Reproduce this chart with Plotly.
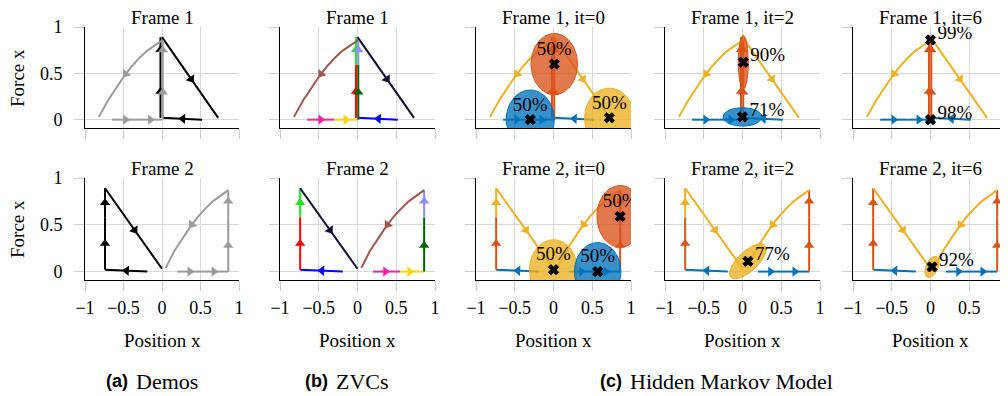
import numpy as np
import plotly.graph_objects as go

# ---------------- data ----------------
TICK_X = [-1, -0.5, 0, 0.5, 1]
TICK_X_TEXT = ["\u22121", "\u22120.5", "0", "0.5", "1"]
TICK_Y = [0, 0.5, 1]
TICK_Y_TEXT = ["0", "0.5", "1"]

FRAMES = ["Frame 1", "Frame 2"]
HMM_ITERS = [0, 2, 6]

# ---- Frame 1 : demo 1 (black) pieces : x, y, arrow positions (fraction along piece)
f1_d1_h_x = [0.52, 0.0];    f1_d1_h_y = [0.0, 0.02];   f1_d1_h_t = [0.48]
f1_d1_vlo_x = [-0.02, -0.02]; f1_d1_vlo_y = [0.02, 0.59]; f1_d1_vlo_t = [0.5]
f1_d1_vhi_x = [-0.02, -0.02]; f1_d1_vhi_y = [0.59, 0.89]; f1_d1_vhi_t = [0.55]
f1_d1_d_x = [0.0, 0.73];    f1_d1_d_y = [0.89, 0.02];  f1_d1_d_t = [0.52]
# ---- Frame 1 : demo 2 (gray) pieces
f1_d2_hlo_x = [-0.65, -0.30]; f1_d2_hlo_y = [0.0, 0.0]; f1_d2_hlo_t = [0.5]
f1_d2_hhi_x = [-0.30, 0.0];   f1_d2_hhi_y = [0.0, 0.0]; f1_d2_hhi_t = [0.5]
f1_d2_vlo_x = [0.01, 0.01];   f1_d2_vlo_y = [0.0, 0.59]; f1_d2_vlo_t = [0.5]
f1_d2_vhi_x = [0.01, 0.01];   f1_d2_vhi_y = [0.59, 0.86]; f1_d2_vhi_t = [0.6]
f1_d2_c_x = [0.01, -0.1, -0.2, -0.3, -0.4, -0.5, -0.6, -0.7, -0.82]
f1_d2_c_y = [0.86, 0.80, 0.74, 0.66, 0.57, 0.46, 0.34, 0.21, 0.03]
f1_d2_c_t = [0.5]

# ---- Frame 2 : demo 1 (black) pieces
f2_d1_h_x = [-0.19, -0.74];  f2_d1_h_y = [0.0, 0.02];  f2_d1_h_t = [0.49]
f2_d1_vlo_x = [-0.74, -0.74]; f2_d1_vlo_y = [0.02, 0.58]; f2_d1_vlo_t = [0.5]
f2_d1_vhi_x = [-0.74, -0.74]; f2_d1_vhi_y = [0.58, 0.89]; f2_d1_vhi_t = [0.5]
f2_d1_d_x = [-0.74, 0.0];    f2_d1_d_y = [0.89, 0.03]; f2_d1_d_t = [0.52]
# ---- Frame 2 : demo 2 (gray) pieces
f2_d2_hlo_x = [0.2, 0.55];  f2_d2_hlo_y = [0.0, 0.0]; f2_d2_hlo_t = [0.46]
f2_d2_hhi_x = [0.55, 0.86]; f2_d2_hhi_y = [0.0, 0.0]; f2_d2_hhi_t = [0.4]
f2_d2_vlo_x = [0.86, 0.86]; f2_d2_vlo_y = [0.0, 0.58]; f2_d2_vlo_t = [0.48]
f2_d2_vhi_x = [0.86, 0.86]; f2_d2_vhi_y = [0.58, 0.87]; f2_d2_vhi_t = [0.59]
f2_d2_c_x = [0.86, 0.76, 0.66, 0.56, 0.46, 0.36, 0.26, 0.16, 0.05]
f2_d2_c_y = [0.87, 0.81, 0.75, 0.67, 0.58, 0.47, 0.35, 0.22, 0.04]
f2_d2_c_t = [0.5]

# ---- HMM states per panel: state colour, centre, ellipse half-axis vectors u, v, probability
f1_it0_state = ["red", "blue", "yellow"]
f1_it0_cx = [0.01, -0.30, 0.72]; f1_it0_cy = [0.60, 0.0, 0.02]
f1_it0_u = [(0.30, 0.0), (0.31, 0.0), (0.32, 0.0)]
f1_it0_v = [(0.0, 0.33), (0.0, 0.32), (0.0, 0.32)]
f1_it0_prob = [50, 50, 50]

f1_it2_state = ["red", "blue"]
f1_it2_cx = [0.01, 0.0]; f1_it2_cy = [0.62, 0.03]
f1_it2_u = [(0.065, 0.0), (0.25, 0.0)]
f1_it2_v = [(0.0, 0.29), (0.0, 0.10)]
f1_it2_prob = [90, 71]

f1_it6_state = ["red", "blue"]
f1_it6_cx = [0.0, 0.0]; f1_it6_cy = [0.86, 0.0]
f1_it6_u = [(0.045, 0.0), (0.05, 0.0)]
f1_it6_v = [(0.0, 0.045), (0.0, 0.035)]
f1_it6_prob = [99, 98]

f2_it0_state = ["yellow", "blue", "red"]
f2_it0_cx = [0.0, 0.57, 0.86]; f2_it0_cy = [0.02, 0.0, 0.59]
f2_it0_u = [(0.31, 0.0), (0.30, 0.0), (0.30, 0.0)]
f2_it0_v = [(0.0, 0.32), (0.0, 0.31), (0.0, 0.33)]
f2_it0_prob = [50, 50, 50]

f2_it2_state = ["yellow"]
f2_it2_cx = [0.07]; f2_it2_cy = [0.11]
f2_it2_u = [(0.22, 0.17)]
f2_it2_v = [(-0.087, 0.079)]
f2_it2_prob = [77]

f2_it6_state = ["yellow"]
f2_it6_cx = [0.02]; f2_it6_cy = [0.05]
f2_it6_u = [(0.06, 0.11)]
f2_it6_v = [(-0.07, 0.027)]
f2_it6_prob = [92]

SUB_LABELS = ["(a)", "(b)", "(c)"]
SUB_TEXTS = ["Demos", "ZVCs", "Hidden Markov Model"]

# ---------------- tables built from the arrays ----------------
PIECES = {
    1: [("d1_h", f1_d1_h_x, f1_d1_h_y, f1_d1_h_t),
        ("d1_vlo", f1_d1_vlo_x, f1_d1_vlo_y, f1_d1_vlo_t),
        ("d1_vhi", f1_d1_vhi_x, f1_d1_vhi_y, f1_d1_vhi_t),
        ("d1_d", f1_d1_d_x, f1_d1_d_y, f1_d1_d_t),
        ("d2_hlo", f1_d2_hlo_x, f1_d2_hlo_y, f1_d2_hlo_t),
        ("d2_hhi", f1_d2_hhi_x, f1_d2_hhi_y, f1_d2_hhi_t),
        ("d2_vlo", f1_d2_vlo_x, f1_d2_vlo_y, f1_d2_vlo_t),
        ("d2_vhi", f1_d2_vhi_x, f1_d2_vhi_y, f1_d2_vhi_t),
        ("d2_c", f1_d2_c_x, f1_d2_c_y, f1_d2_c_t)],
    2: [("d1_h", f2_d1_h_x, f2_d1_h_y, f2_d1_h_t),
        ("d1_vlo", f2_d1_vlo_x, f2_d1_vlo_y, f2_d1_vlo_t),
        ("d1_vhi", f2_d1_vhi_x, f2_d1_vhi_y, f2_d1_vhi_t),
        ("d1_d", f2_d1_d_x, f2_d1_d_y, f2_d1_d_t),
        ("d2_hlo", f2_d2_hlo_x, f2_d2_hlo_y, f2_d2_hlo_t),
        ("d2_hhi", f2_d2_hhi_x, f2_d2_hhi_y, f2_d2_hhi_t),
        ("d2_vlo", f2_d2_vlo_x, f2_d2_vlo_y, f2_d2_vlo_t),
        ("d2_vhi", f2_d2_vhi_x, f2_d2_vhi_y, f2_d2_vhi_t),
        ("d2_c", f2_d2_c_x, f2_d2_c_y, f2_d2_c_t)],
}

HMM_STATES = {
    (1, 0): (f1_it0_state, f1_it0_cx, f1_it0_cy, f1_it0_u, f1_it0_v, f1_it0_prob),
    (1, 2): (f1_it2_state, f1_it2_cx, f1_it2_cy, f1_it2_u, f1_it2_v, f1_it2_prob),
    (1, 6): (f1_it6_state, f1_it6_cx, f1_it6_cy, f1_it6_u, f1_it6_v, f1_it6_prob),
    (2, 0): (f2_it0_state, f2_it0_cx, f2_it0_cy, f2_it0_u, f2_it0_v, f2_it0_prob),
    (2, 2): (f2_it2_state, f2_it2_cx, f2_it2_cy, f2_it2_u, f2_it2_v, f2_it2_prob),
    (2, 6): (f2_it6_state, f2_it6_cx, f2_it6_cy, f2_it6_u, f2_it6_v, f2_it6_prob),
}

# ---------------- styles ----------------
FONT = "'Liberation Serif', 'DejaVu Serif', serif"
SANS = "'Liberation Sans', 'DejaVu Sans', sans-serif"
FS = 19
TFS = 18
GRAY = "#9b9b9b"
DEMO_COL = {p: ("#000000" if p.startswith("d1") else GRAY)
            for p in ["d1_h", "d1_vlo", "d1_vhi", "d1_d", "d2_hlo", "d2_hhi", "d2_vlo", "d2_vhi", "d2_c"]}
ZVC_COL = {"d1_h": "#0000ff", "d1_vlo": "#ff0000", "d1_vhi": "#1ee61e", "d1_d": "#0d0d3a",
           "d2_hlo": "#ff1fa5", "d2_hhi": "#ffd400", "d2_vlo": "#006400", "d2_vhi": "#8c8cff",
           "d2_c": "#a0554d"}
HMM_RGB = {"blue": (0, 114, 189), "red": (217, 83, 25), "yellow": (237, 177, 32)}
HMM_PIECE_STATE = {"d1_h": "blue", "d1_vlo": "red", "d1_vhi": "red", "d1_d": "yellow",
                   "d2_hlo": "blue", "d2_hhi": "blue", "d2_vlo": "red", "d2_vhi": "red",
                   "d2_c": "yellow"}

# the page body has an 8 px margin, so the figure is drawn from (8, 8) of the window
OFF = 8
W, H = 1008 - OFF, 396 - OFF
COL_PX = [(85, 239), (280, 435), (476, 631), (665, 820), (853, 1008)]   # window pixels
ROW_PX = [(27, 128), (178, 280)]
SUB_PX = [(130, 134), (330, 334), (624, 628)]   # right end of label, left start of text
YR = [-0.09, 1.0]
XR = [-1.0, 1.0]


def px2paper_x(px):
    return (px - OFF) / W


def px2paper_y(py):
    return 1 - (py - OFF) / H


def rgb(c, a=1.0):
    r, g, b = HMM_RGB[c]
    return f"rgba({r},{g},{b},{a})"


def arrow_points(xs, ys, ts, sx, sy):
    X = np.asarray(xs, float) * sx
    Y = np.asarray(ys, float) * sy
    seg = np.hypot(np.diff(X), np.diff(Y))
    cum = np.concatenate([[0.0], np.cumsum(seg)])
    L = cum[-1]
    out = []
    for t in ts:
        s = t * L
        i = int(min(max(np.searchsorted(cum, s, side="right") - 1, 0), len(seg) - 1))
        f = (s - cum[i]) / seg[i]
        px = X[i] + f * (X[i + 1] - X[i])
        py = Y[i] + f * (Y[i + 1] - Y[i])
        ang = float(np.degrees(np.arctan2(X[i + 1] - X[i], Y[i + 1] - Y[i])))
        out.append((px / sx, py / sy, ang))
    return out


fig = go.Figure()
layout = dict(width=W, height=H, margin=dict(l=0, r=0, t=0, b=0, pad=0, autoexpand=False),
              autosize=False,
              paper_bgcolor="white", plot_bgcolor="white", showlegend=False,
              font=dict(family=FONT, size=FS, color="black"))
annotations = []

for r in range(2):
    frame = r + 1
    for c in range(5):
        idx = r * 5 + c + 1
        xa = "x" if idx == 1 else f"x{idx}"
        ya = "y" if idx == 1 else f"y{idx}"
        x0p, x1p = COL_PX[c]
        y0p, y1p = ROW_PX[r]
        sx = (x1p - x0p) / (XR[1] - XR[0])
        sy = (y1p - y0p) / (YR[1] - YR[0])

        layout["xaxis" if idx == 1 else f"xaxis{idx}"] = dict(
            domain=[px2paper_x(x0p), min(px2paper_x(x1p), 1.0)], range=XR, anchor=ya,
            automargin=False,
            tickvals=TICK_X, ticktext=TICK_X_TEXT, showticklabels=(r == 1),
            ticks="outside", ticklen=10, tickcolor="#cfcfcf", tickwidth=1,
            showgrid=True, gridcolor="#d9d9d9", gridwidth=1, zeroline=False,
            showline=True, linecolor="black", linewidth=1,
            tickfont=dict(family=FONT, size=TFS), ticklabelstandoff=1, fixedrange=True)
        layout["yaxis" if idx == 1 else f"yaxis{idx}"] = dict(
            domain=[px2paper_y(y1p), px2paper_y(y0p)], range=YR, anchor=xa, automargin=False,
            tickvals=TICK_Y, ticktext=TICK_Y_TEXT, showticklabels=(c == 0),
            ticks="outside", ticklen=10, tickcolor="#cfcfcf", tickwidth=1,
            showgrid=True, gridcolor="#d9d9d9", gridwidth=1, zeroline=False,
            showline=True, linecolor="black", linewidth=1,
            tickfont=dict(family=FONT, size=TFS), ticklabelstandoff=8, fixedrange=True)

        # colours of the trajectory pieces for this panel
        if c == 0:
            cols = DEMO_COL
        elif c == 1:
            cols = ZVC_COL
        else:
            it = HMM_ITERS[c - 2]
            st = dict(HMM_PIECE_STATE)
            if frame == 2 and it in (0, 2):
                st["d1_vhi"] = "yellow"
            cols = {k: rgb(v) for k, v in st.items()}

        for name, xs, ys, ts in PIECES[frame]:
            col = cols[name]
            fig.add_trace(go.Scatter(x=xs, y=ys, mode="lines", xaxis=xa, yaxis=ya,
                                     line=dict(color=col, width=2), hoverinfo="skip"))
            arr = arrow_points(xs, ys, ts, sx, sy)
            fig.add_trace(go.Scatter(
                x=[a[0] for a in arr], y=[a[1] for a in arr], mode="markers",
                xaxis=xa, yaxis=ya, hoverinfo="skip",
                marker=dict(symbol="triangle-up", size=9, color=col,
                            angle=[a[2] for a in arr], line=dict(width=0))))

        if c >= 2:
            it = HMM_ITERS[c - 2]
            states, cxs, cys, us, vs, probs = HMM_STATES[(frame, it)]
            tt = np.linspace(0, 2 * np.pi, 121)
            for s, cx, cy, u, v in zip(states, cxs, cys, us, vs):
                ex = cx + np.cos(tt) * u[0] + np.sin(tt) * v[0]
                ey = cy + np.cos(tt) * u[1] + np.sin(tt) * v[1]
                fig.add_trace(go.Scatter(x=ex, y=ey, mode="lines", fill="toself",
                                         fillcolor=rgb(s, 0.78), xaxis=xa, yaxis=ya,
                                         line=dict(color=rgb(s), width=1), hoverinfo="skip"))
            fig.add_trace(go.Scatter(x=cxs, y=cys, mode="markers", xaxis=xa, yaxis=ya,
                                     hoverinfo="skip",
                                     marker=dict(symbol="x", size=9, color="black",
                                                 line=dict(width=1, color="black"))))
            for s, cx, cy, p in zip(states, cxs, cys, probs):
                if it == 0:
                    tx, ty, pos = cx, cy + 0.15, "middle center"
                else:
                    tx, ty, pos = cx + 0.09, cy + 0.06, "middle right"
                fig.add_trace(go.Scatter(x=[tx], y=[ty], mode="text", text=[f"{p}%"],
                                         textposition=pos, cliponaxis=True,
                                         textfont=dict(family=FONT, size=FS, color="black"),
                                         xaxis=xa, yaxis=ya, hoverinfo="skip"))

        # titles
        title = FRAMES[r] if c < 2 else f"{FRAMES[r]}, it={HMM_ITERS[c - 2]}"
        annotations.append(dict(text=title, x=px2paper_x((x0p + x1p) / 2),
                                y=px2paper_y(17 if r == 0 else 168),
                                xref="paper", yref="paper", showarrow=False,
                                xanchor="center", yanchor="middle",
                                font=dict(family=FONT, size=FS)))
        if r == 1:
            annotations.append(dict(text="Position x", x=px2paper_x((x0p + x1p) / 2),
                                    y=px2paper_y(340),
                                    xref="paper", yref="paper", showarrow=False,
                                    xanchor="center", yanchor="middle",
                                    font=dict(family=FONT, size=FS)))
    annotations.append(dict(text="Force x", x=px2paper_x(17), y=px2paper_y(78 if r == 0 else 229),
                            xref="paper", yref="paper", showarrow=False, textangle=-90,
                            xanchor="center", yanchor="middle",
                            font=dict(family=FONT, size=FS)))

for lab, txt, (xl, xt) in zip(SUB_LABELS, SUB_TEXTS, SUB_PX):
    annotations.append(dict(text=f"<b>{lab}</b>", x=px2paper_x(xl), y=px2paper_y(381),
                            xref="paper", yref="paper", showarrow=False,
                            xanchor="right", yanchor="middle",
                            font=dict(family=SANS, size=18)))
    annotations.append(dict(text=txt, x=px2paper_x(xt), y=px2paper_y(381),
                            xref="paper", yref="paper", showarrow=False,
                            xanchor="left", yanchor="middle",
                            font=dict(family=FONT, size=22)))

layout["annotations"] = annotations
fig.update_layout(**layout)
fig.write_html("out.html")
